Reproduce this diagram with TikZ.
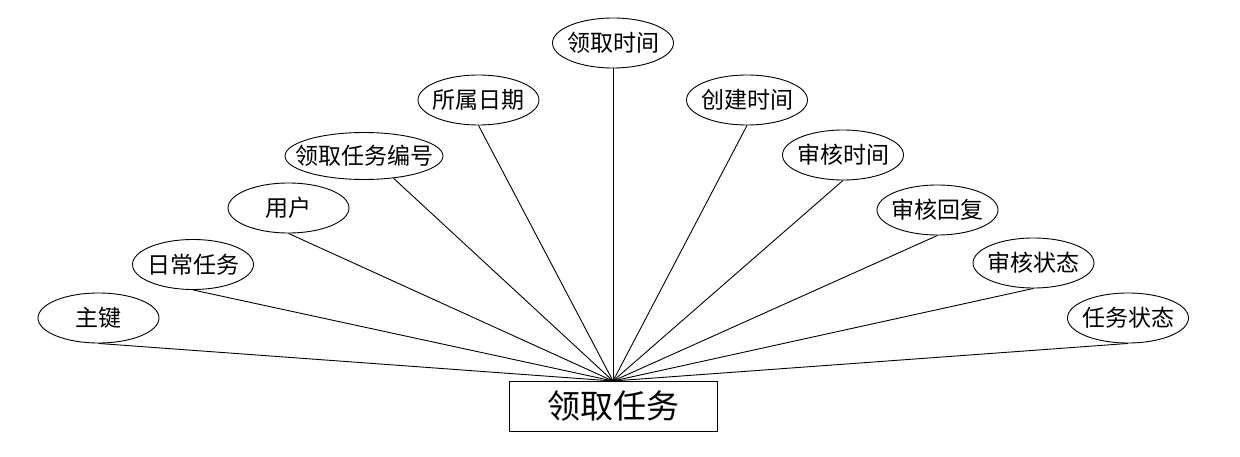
\documentclass[tikz,border=0pt]{standalone}
\usepackage{fontspec}
\setmainfont{Noto Sans CJK SC}
\usetikzlibrary{shapes.geometric}
\newcommand{\zb}[1]{\makebox[0pt]{#1}}
\begin{document}
\begin{tikzpicture}[x=1pt,y=-1pt,
  attr/.style={draw,ellipse,line width=0.9pt,inner sep=0pt,minimum width=121pt,minimum height=50pt,font=\fontsize{23}{23}\selectfont},
  ent/.style={draw,rectangle,line width=0.9pt,inner sep=0pt,minimum width=208pt,minimum height=50pt,font=\fontsize{33}{33}\selectfont},
  link/.style={line width=0.9pt}]
\useasboundingbox (0,0) rectangle (1240,457);
\node[ent] (main) at (613,406) {领取任务};
\coordinate (hub) at (613,381);
\node[attr] (a1) at (98.5,318) {\zb{主键}};
\node[attr] (a2) at (193,264.5) {\zb{日常任务}};
\node[attr] (a3) at (288.5,208) {\zb{用户}};
\node[attr,minimum width=158pt,minimum height=47pt] (a4) at (364,156) {\zb{领取任务编号}};
\node[attr] (a5) at (478.5,100) {\zb{所属日期}};
\node[attr] (a6) at (613,43) {\zb{领取时间}};
\node[attr] (a7) at (747,100) {\zb{创建时间}};
\node[attr] (a8) at (843,155) {\zb{审核时间}};
\node[attr] (a9) at (937.5,210) {\zb{审核回复}};
\node[attr] (a10) at (1033.5,263) {\zb{审核状态}};
\node[attr] (a11) at (1128,318) {\zb{任务状态}};
\draw[link] (a1.south) -- (hub);
\draw[link] (a2.south) -- (hub);
\draw[link] (a3.south) -- (hub);
\draw[link] (a4.-37) -- (hub);
\draw[link] (a5.south) -- (hub);
\draw[link] (a6.south) -- (hub);
\draw[link] (a7.south) -- (hub);
\draw[link] (a8.south) -- (hub);
\draw[link] (a9.south) -- (hub);
\draw[link] (a10.south) -- (hub);
\draw[link] (a11.south) -- (hub);
\end{tikzpicture}
\end{document}
